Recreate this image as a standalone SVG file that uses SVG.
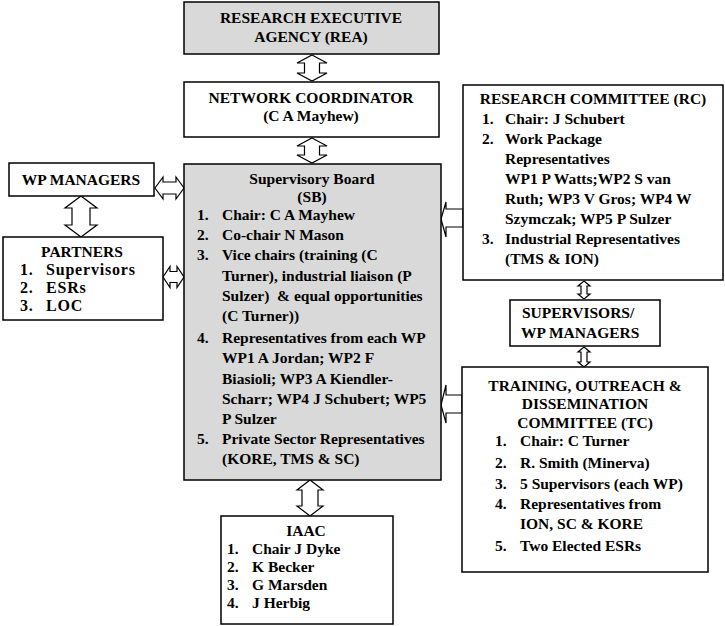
<svg xmlns="http://www.w3.org/2000/svg" width="725" height="626" viewBox="0 0 725 626">
<style>
.box{fill:#fff;stroke:#000;stroke-width:1.5}
.gray{fill:#d9d9d9;stroke:#000;stroke-width:1.5}
.arr{fill:#fff;stroke:#000;stroke-width:1.2;stroke-linejoin:miter}
text{font-family:"Liberation Serif","Times New Roman",serif;font-weight:bold;font-size:15.5px;fill:#000}
.c{text-anchor:middle}
.big{font-size:16px;letter-spacing:0.8px}
</style>
<rect width="725" height="626" fill="#fff"/>
<g id="connectors">
<polygon class="arr" points="312,55 327,63 319.5,63 319.5,73 327,73 312,81 297,73 304.5,73 304.5,63 297,63"/>
<polygon class="arr" points="312,138 327,146 319.5,146 319.5,155 327,155 312,163 297,155 304.5,155 304.5,146 297,146"/>
<polygon class="arr" points="310,480 323,490 318,490 318,506 323,506 310,516 297,506 302,506 302,490 297,490"/>
<polygon class="arr" points="81,196 97,208 90,208 90,225 97,225 81,237 65,225 72,225 72,208 65,208"/>
<polygon class="arr" points="584,281 590,286 587,286 587,294 590,294 584,299 578,294 581,294 581,286 578,286"/>
<polygon class="arr" points="584,347 590,352 587,352 587,362 590,362 584,367 578,362 581,362 581,352 578,352"/>
<polygon class="arr" points="155,188 163,177 163,182 176,182 176,177 184,188 176,199 176,194 163,194 163,199"/>
<polygon class="arr" points="163,277 170,266.5 170,271.5 177,271.5 177,266.5 184,277 177,287.5 177,282.5 170,282.5 170,287.5"/>
<polygon class="arr" points="463,209 446,209 446,202 441,219 446,237 446,227 463,227"/>
<polygon class="arr" points="462,395 446,395 446,385 441,405 446,423 446,413 462,413"/>
</g>
<g id="rea">
<rect class="gray" x="184" y="2" width="255" height="52"/>
<text class="c" x="311" y="23">RESEARCH EXECUTIVE</text>
<text class="c" x="311" y="42">AGENCY (REA)</text>
</g>
<g id="nc">
<rect class="box" x="184" y="82" width="255" height="55"/>
<text class="c" x="311" y="103">NETWORK COORDINATOR</text>
<text class="c" x="311" y="121">(C A Mayhew)</text>
</g>
<g id="sb">
<rect class="gray" x="184" y="164" width="257" height="316"/>
<text class="c" x="312" y="184">Supervisory Board</text>
<text class="c" x="312" y="202">(SB)</text>
<text x="197" y="220">1.</text><text x="222" y="220">Chair: C A Mayhew</text>
<text x="197" y="240">2.</text><text x="222" y="240">Co-chair N Mason</text>
<text x="197" y="260">3.</text><text x="222" y="260">Vice chairs (training (C</text>
<text x="222" y="281">Turner), industrial liaison (P</text>
<text x="222" y="301" xml:space="preserve">Sulzer)  &amp; equal opportunities</text>
<text x="222" y="321">(C Turner))</text>
<text x="197" y="343">4.</text><text x="222" y="343">Representatives from each WP</text>
<text x="222" y="363">WP1 A Jordan; WP2 F</text>
<text x="222" y="384">Biasioli; WP3 A Kiendler-</text>
<text x="222" y="404">Scharr; WP4 J Schubert; WP5</text>
<text x="222" y="424">P Sulzer</text>
<text x="197" y="444">5.</text><text x="222" y="444">Private Sector Representatives</text>
<text x="222" y="464">(KORE, TMS &amp; SC)</text>
</g>
<g id="wpm">
<rect class="box" x="9" y="163" width="145" height="33"/>
<text class="c" x="81" y="185">WP MANAGERS</text>
</g>
<g id="partners">
<rect class="box" x="3" y="237" width="160" height="83"/>
<text class="c" x="82" y="257">PARTNERS</text>
<text class="big" x="20" y="275">1.</text><text class="big" x="46" y="275">Supervisors</text>
<text class="big" x="20" y="293">2.</text><text class="big" x="46" y="293">ESRs</text>
<text class="big" x="20" y="311">3.</text><text class="big" x="46" y="311">LOC</text>
</g>
<g id="rc">
<rect class="box" x="463" y="85" width="260" height="195"/>
<text class="c" x="593" y="104">RESEARCH COMMITTEE (RC)</text>
<text x="482" y="124">1.</text><text x="505" y="124">Chair: J Schubert</text>
<text x="482" y="144">2.</text><text x="505" y="144">Work Package</text>
<text x="505" y="164">Representatives</text>
<text x="505" y="184">WP1 P Watts;WP2 S van</text>
<text x="505" y="204">Ruth; WP3 V Gros; WP4 W</text>
<text x="505" y="224">Szymczak; WP5 P Sulzer</text>
<text x="482" y="244">3.</text><text x="505" y="244">Industrial Representatives</text>
<text x="505" y="264">(TMS &amp; ION)</text>
</g>
<g id="sup">
<rect class="box" x="510" y="300" width="150" height="46"/>
<text x="522" y="318">SUPERVISORS/</text>
<text x="521" y="338">WP MANAGERS</text>
</g>
<g id="tc">
<rect class="box" x="462" y="367" width="246" height="205"/>
<text class="c" x="585" y="391">TRAINING, OUTREACH &amp;</text>
<text class="c" x="585" y="409">DISSEMINATION</text>
<text class="c" x="585" y="428">COMMITTEE (TC)</text>
<text x="495" y="446">1.</text><text x="520" y="446">Chair: C Turner</text>
<text x="495" y="468">2.</text><text x="520" y="468">R. Smith (Minerva)</text>
<text x="495" y="489">3.</text><text x="520" y="489">5 Supervisors (each WP)</text>
<text x="495" y="509">4.</text><text x="520" y="509">Representatives from</text>
<text x="520" y="529">ION, SC &amp; KORE</text>
<text x="495" y="551">5.</text><text x="520" y="551">Two Elected ESRs</text>
</g>
<g id="iaac">
<rect class="box" x="221" y="516" width="172" height="108"/>
<text class="c" x="306" y="536">IAAC</text>
<text x="227" y="554">1.</text><text x="252" y="554">Chair J Dyke</text>
<text x="227" y="572">2.</text><text x="252" y="572">K Becker</text>
<text x="227" y="590">3.</text><text x="252" y="590">G Marsden</text>
<text x="227" y="608">4.</text><text x="252" y="608">J Herbig</text>
</g>
</svg>
